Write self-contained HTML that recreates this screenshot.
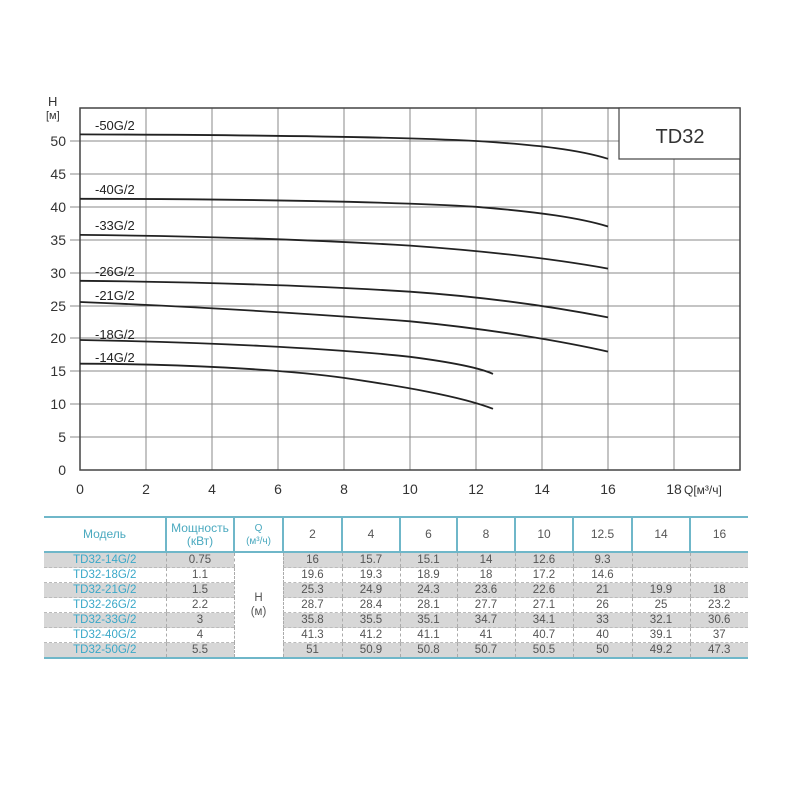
<!DOCTYPE html>
<html><head><meta charset="utf-8"><style>
body{margin:0;background:#fff;width:800px;height:800px;overflow:hidden;font-family:"Liberation Sans",sans-serif}
table{position:absolute;left:44px;top:516px;border-collapse:collapse;font-size:11.5px;color:#555}
td{padding:0;text-align:center;border-left:1px dashed #aaa;border-bottom:1px dashed #bbb;height:14px;line-height:14px}
tr.h td{height:33px;border-left:2px solid #6fb7c9;color:#555;font-size:12px;line-height:13px}
tr.h td.c{color:#4aa9bf}
tr.g td{background:#d7d7d7}
td.m{color:#3aa8c8}
tr td:first-child{border-left:none}
</style></head><body>
<svg width="800" height="510" style="position:absolute;left:0;top:0" font-family="Liberation Sans, sans-serif">
<g stroke="#888" stroke-width="1">
<line x1="146" y1="108" x2="146" y2="470"/><line x1="212" y1="108" x2="212" y2="470"/><line x1="278" y1="108" x2="278" y2="470"/><line x1="344" y1="108" x2="344" y2="470"/><line x1="410" y1="108" x2="410" y2="470"/><line x1="476" y1="108" x2="476" y2="470"/><line x1="542" y1="108" x2="542" y2="470"/><line x1="608" y1="108" x2="608" y2="470"/><line x1="674" y1="159" x2="674" y2="470"/>
<line x1="70" y1="437" x2="740" y2="437"/><line x1="70" y1="404" x2="740" y2="404"/><line x1="70" y1="371" x2="740" y2="371"/><line x1="70" y1="338" x2="740" y2="338"/><line x1="70" y1="306" x2="740" y2="306"/><line x1="70" y1="273" x2="740" y2="273"/><line x1="70" y1="240" x2="740" y2="240"/><line x1="70" y1="207" x2="740" y2="207"/><line x1="70" y1="174" x2="740" y2="174"/><line x1="70" y1="141" x2="619" y2="141"/>
</g>
<rect x="80" y="108" width="660" height="362" fill="none" stroke="#444" stroke-width="1.5"/>
<rect x="619" y="108" width="121" height="51" fill="#fff" stroke="#444" stroke-width="1.2"/>
<text x="680" y="143" font-size="20" text-anchor="middle" fill="#333">TD32</text>
<g fill="none" stroke="#222" stroke-width="1.8">
<path d="M80,134.4 C280,135 400,137 476,141 C540,145 580,150 608,158.8"/>
<path d="M80,198.8 C250,199 400,202 476,206.8 C540,212 580,218 608,226.5"/>
<path d="M80,234.9 C200,236 300,239 410,245.6 C500,252 560,260 608,268.6"/>
<path d="M80,280.8 C200,282 320,286 410,291.7 C500,298 570,310 608,317.4"/>
<path d="M80,302 C180,306 300,313 410,321.3 C500,330 570,343 608,351.6"/>
<path d="M80,340 C200,342 330,348 410,356.8 C450,362 480,368 493,373.9"/>
<path d="M80,363.7 C180,364 280,369 344,377.9 C400,386 460,396 493,408.8"/>
</g>
<g font-size="13" fill="#222">
<text x="95" y="130">-50G/2</text><text x="95" y="194">-40G/2</text><text x="95" y="230">-33G/2</text><text x="95" y="276">-26G/2</text><text x="95" y="300">-21G/2</text><text x="95" y="339">-18G/2</text><text x="95" y="362">-14G/2</text>
</g>
<g font-size="14" fill="#333" text-anchor="end">
<text x="66" y="475">0</text><text x="66" y="442">5</text><text x="66" y="409">10</text><text x="66" y="376">15</text><text x="66" y="343">20</text><text x="66" y="311">25</text><text x="66" y="278">30</text><text x="66" y="245">35</text><text x="66" y="212">40</text><text x="66" y="179">45</text><text x="66" y="146">50</text>
</g>
<text x="48" y="106" font-size="13" fill="#333">H</text><text x="46" y="119" font-size="11" fill="#333">[м]</text>
<g font-size="14" fill="#333" text-anchor="middle">
<text x="80" y="494">0</text><text x="146" y="494">2</text><text x="212" y="494">4</text><text x="278" y="494">6</text><text x="344" y="494">8</text><text x="410" y="494">10</text><text x="476" y="494">12</text><text x="542" y="494">14</text><text x="608" y="494">16</text><text x="674" y="494">18</text>
</g>
<text x="684" y="494" font-size="12" fill="#333">Q[м³/ч]</text>
</svg>
<table>
<colgroup><col style="width:122px"><col style="width:68px"><col style="width:49px"><col style="width:59px"><col style="width:58px"><col style="width:57px"><col style="width:58px"><col style="width:58px"><col style="width:59px"><col style="width:58px"><col style="width:58px"></colgroup>
<tr class="h" style="border-top:2px solid #6fb7c9;border-bottom:2px solid #6fb7c9"><td class="c">Модель</td><td class="c">Мощность<br>(кВт)</td><td class="c" style="font-size:10px">Q<br>(м³/ч)</td><td>2</td><td>4</td><td>6</td><td>8</td><td>10</td><td>12.5</td><td>14</td><td>16</td></tr>
<tr class="g"><td class="m">TD32-14G/2</td><td>0.75</td><td rowspan="7" style="background:#fff;border-bottom:none">H<br>(м)</td><td>16</td><td>15.7</td><td>15.1</td><td>14</td><td>12.6</td><td>9.3</td><td></td><td></td></tr>
<tr><td class="m">TD32-18G/2</td><td>1.1</td><td>19.6</td><td>19.3</td><td>18.9</td><td>18</td><td>17.2</td><td>14.6</td><td></td><td></td></tr>
<tr class="g"><td class="m">TD32-21G/2</td><td>1.5</td><td>25.3</td><td>24.9</td><td>24.3</td><td>23.6</td><td>22.6</td><td>21</td><td>19.9</td><td>18</td></tr>
<tr><td class="m">TD32-26G/2</td><td>2.2</td><td>28.7</td><td>28.4</td><td>28.1</td><td>27.7</td><td>27.1</td><td>26</td><td>25</td><td>23.2</td></tr>
<tr class="g"><td class="m">TD32-33G/2</td><td>3</td><td>35.8</td><td>35.5</td><td>35.1</td><td>34.7</td><td>34.1</td><td>33</td><td>32.1</td><td>30.6</td></tr>
<tr><td class="m">TD32-40G/2</td><td>4</td><td>41.3</td><td>41.2</td><td>41.1</td><td>41</td><td>40.7</td><td>40</td><td>39.1</td><td>37</td></tr>
<tr class="g" style="border-bottom:2px solid #6fb7c9"><td class="m">TD32-50G/2</td><td>5.5</td><td>51</td><td>50.9</td><td>50.8</td><td>50.7</td><td>50.5</td><td>50</td><td>49.2</td><td>47.3</td></tr>
</table>
</body></html>
